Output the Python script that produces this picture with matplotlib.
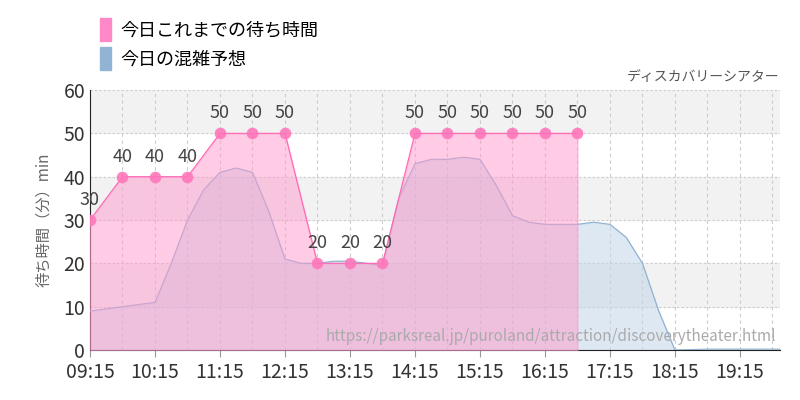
import matplotlib
matplotlib.use("Agg")
import matplotlib.pyplot as plt
from matplotlib.patches import Patch

plt.rcParams["font.family"] = ["Noto Sans CJK JP", "DejaVu Sans"]

# minutes since 09:15
pink_t = [0, 30, 60, 90, 120, 150, 180, 210, 240, 270, 300, 330, 360, 390, 420, 450]
pink_v = [30, 40, 40, 40, 50, 50, 50, 20, 20, 20, 50, 50, 50, 50, 50, 50]

blue_t = list(range(0, 646, 15))
blue_v = [9, 9.5, 10, 10.5, 11, 20, 30, 37, 41, 42, 41, 32, 21, 20, 20, 20.5, 20.5, 20,
          19.5, 35, 43, 44, 44, 44.5, 44, 38, 31, 29.5, 29, 29, 29, 29.5, 29, 26, 20, 9,
          0, 0.1, 0.2, 0.2, 0.2, 0.2, 0.2, 0.2]
blue_t = blue_t[:len(blue_v)]

xticks = [0, 60, 120, 180, 240, 300, 360, 420, 480, 540, 600]
xlabels = ["09:15", "10:15", "11:15", "12:15", "13:15", "14:15", "15:15", "16:15",
           "17:15", "18:15", "19:15"]

fig = plt.figure(figsize=(8, 4), dpi=100)
ax = fig.add_axes([0.1125, 0.125, 0.8625, 0.65])
xmax = 637
ax.set_xlim(0, xmax)
ax.set_ylim(0, 60)

for lo in (10, 30, 50):
    ax.axhspan(lo, lo + 10, color="#f2f2f2", zorder=0)
for y in range(10, 61, 10):
    ax.axhline(y, color="#cccccc", lw=0.8, ls=(0, (2, 2)), zorder=1)
for x in range(30, xmax, 30):
    ax.axvline(x, color="#cccccc", lw=0.8, ls=(0, (3, 3)), zorder=1)

ax.fill_between(blue_t, blue_v, color="#c2d6e8", alpha=0.55, zorder=2)
ax.plot(blue_t, blue_v, color="#8fb0d0", lw=0.8, zorder=3)
ax.fill_between(pink_t, pink_v, color="#ff99cc", alpha=0.5, zorder=4)
ax.plot(pink_t, pink_v, color="#ff66b3", lw=0.8, zorder=5)
ax.scatter(pink_t, pink_v, s=70, color="#ff77bb", alpha=0.9, zorder=6, lw=0)
for t, v in zip(pink_t, pink_v):
    ax.text(t, v + 2.5, str(v), ha="center", va="bottom", fontsize=13, color="#444444",
            zorder=7)

ax.set_xticks(xticks)
ax.set_xticklabels(xlabels, fontsize=14, color="#333333")
ax.set_yticks(range(0, 61, 10))
ax.tick_params(axis="y", labelsize=14, colors="#333333", length=0)
ax.tick_params(axis="x", length=5, color="#999999")
ax.set_ylabel("待ち時間（分）min", fontsize=11, color="#666666", labelpad=8)
for s in ("top", "right"):
    ax.spines[s].set_visible(False)
ax.spines["bottom"].set_color("#222222")
ax.spines["left"].set_color("#222222")

ax.text(0.995, 0.02, "https://parksreal.jp/puroland/attraction/discoverytheater.html",
        transform=ax.transAxes, ha="right", va="bottom", fontsize=11, color="#aaaaaa",
        zorder=8)
fig.text(0.975, 0.79, "ディスカバリーシアター", ha="right", va="bottom", fontsize=10,
         color="#555555")

handles = [Patch(color="#ff88c8", label="今日これまでの待ち時間"),
           Patch(color="#92b4d4", label="今日の混雑予想")]
fig.legend(handles=handles, loc="upper left", bbox_to_anchor=(0.105, 0.995), frameon=False,
           fontsize=13, handlelength=0.6, handleheight=1.6, handletextpad=0.5,
           labelspacing=0.3)

fig.savefig("out.png", dpi=100)
